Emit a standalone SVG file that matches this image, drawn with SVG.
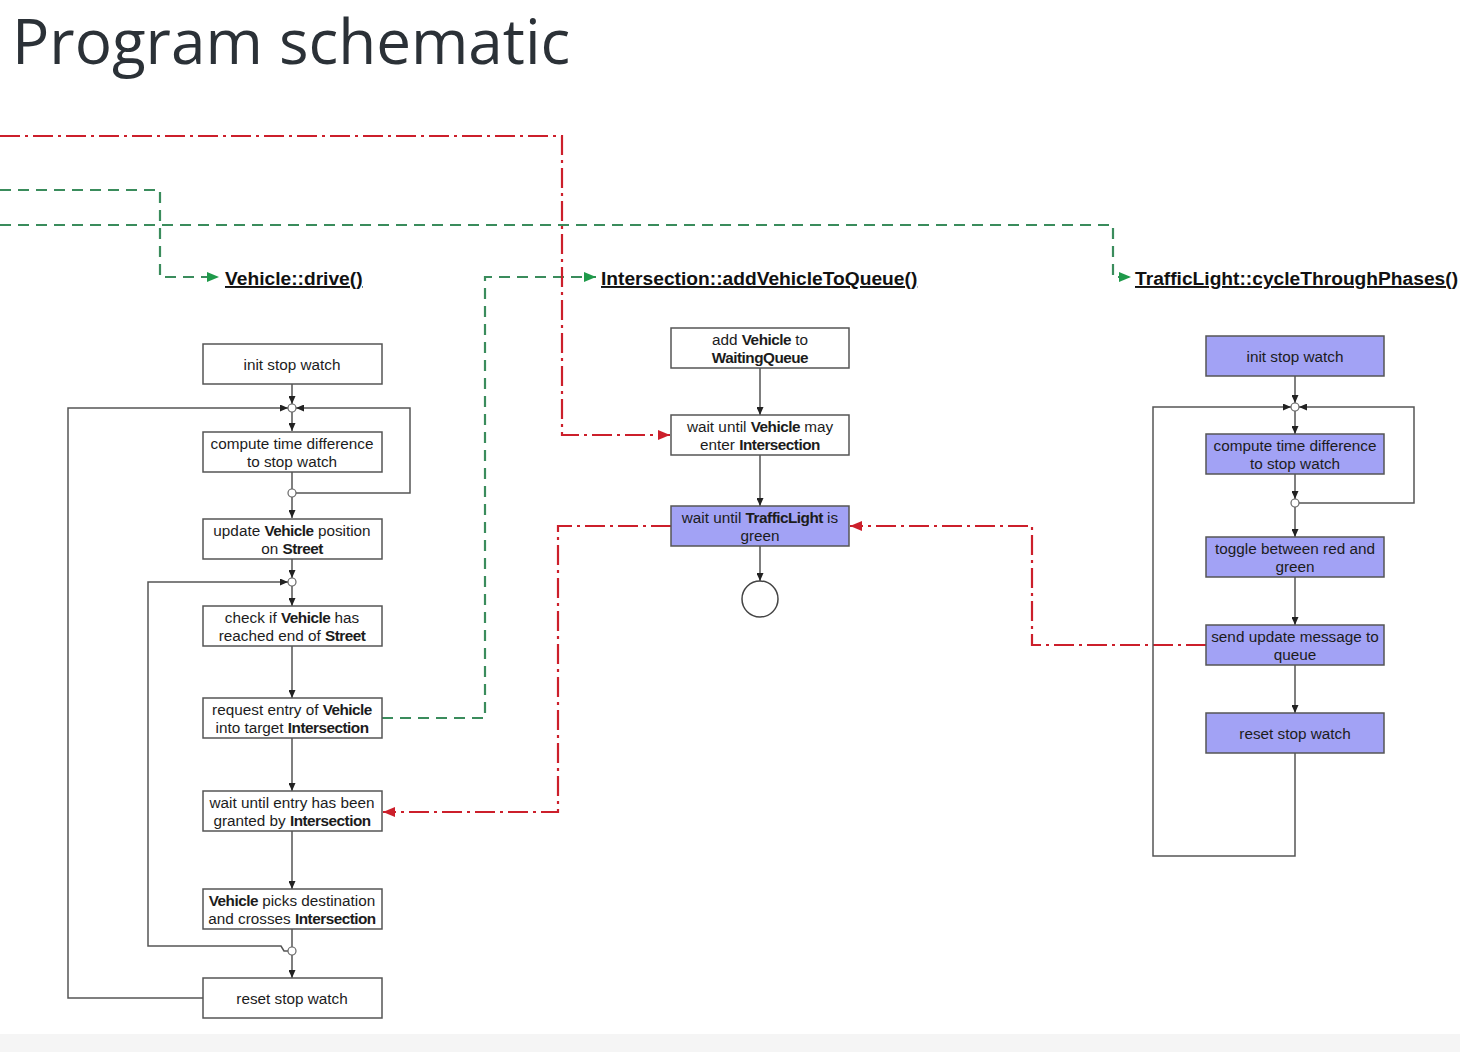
<svg xmlns="http://www.w3.org/2000/svg" width="1460" height="1052" viewBox="0 0 1460 1052">
<style>
.box{fill:#ffffff;stroke:#555;stroke-width:1.5}
.pbox{fill:#a2a2f5;stroke:#555;stroke-width:1.5}
.t{font-family:"Liberation Sans",Arial,Helvetica,sans-serif;font-size:15.3px;fill:#1c1c1c;text-anchor:middle}
.b{font-weight:bold;letter-spacing:-0.5px}
.lbl{font-family:"Liberation Sans",Arial,Helvetica,sans-serif;font-size:19.2px;font-weight:bold;fill:#111;text-decoration:underline}
.ln{fill:none;stroke:#555;stroke-width:1.5}
.arr{fill:none;stroke:#555;stroke-width:1.5;marker-end:url(#ab)}
.jn{fill:#fff;stroke:#666;stroke-width:1.2}
.g{fill:none;stroke:#3a8c5c;stroke-width:2.2;stroke-dasharray:11 7;marker-end:url(#ag)}
.r{fill:none;stroke:#cc1f2b;stroke-width:2.2;stroke-dasharray:20 5 3 5;marker-end:url(#ar)}
</style>
<defs>
<marker id="ab" viewBox="0 0 8 7" refX="8" refY="3.5" markerWidth="8" markerHeight="7" markerUnits="userSpaceOnUse" orient="auto"><path d="M0,0 L8,3.5 L0,7 z" fill="#222"/></marker>
<marker id="ag" viewBox="0 0 12 10" refX="12" refY="5" markerWidth="12" markerHeight="10" markerUnits="userSpaceOnUse" orient="auto"><path d="M0,0 L12,5 L0,10 z" fill="#1f9a4a"/></marker>
<marker id="ar" viewBox="0 0 12 10" refX="12" refY="5" markerWidth="12" markerHeight="10" markerUnits="userSpaceOnUse" orient="auto"><path d="M0,0 L12,5 L0,10 z" fill="#cc1f2b"/></marker>
</defs>
<rect x="0" y="0" width="1460" height="1052" fill="#ffffff"/>
<rect x="0" y="1034" width="1460" height="18" fill="#f5f5f5"/>
<text x="12" y="64" font-family="'Open Sans','Noto Sans',sans-serif" font-size="62" fill="#2b3137">Program schematic</text>

<g id="connectors">
<path class="g" d="M0,190 H160 V277 H219"/>
<path class="g" d="M0,225 H1113 V277 H1131"/>
<path class="g" d="M382,718 H485 V277 H596"/>
<path class="r" d="M0,136 H562 V435 H670"/>
<path class="r" d="M671,526 H558 V812 H383"/>
<path class="r" d="M1206,645 H1032 V526 H850"/>
<path class="arr" d="M292,384 V404"/>
<path class="arr" d="M292,412 V431"/>
<path class="ln" d="M292,471 V489"/>
<path class="arr" d="M292,497 V518"/>
<path class="arr" d="M292,558 V578"/>
<path class="arr" d="M292,586 V606"/>
<path class="arr" d="M292,646 V698"/>
<path class="arr" d="M292,738 V791"/>
<path class="arr" d="M292,831 V889"/>
<path class="ln" d="M292,929 V947"/>
<path class="arr" d="M292,955 V978"/>
<path class="arr" d="M203,998 H68 V408 H288"/>
<path class="arr" d="M296,493 H410 V408 H296"/>
<path class="arr" d="M288,951 H284 L281,946 H148 V582 H288"/>
<path class="arr" d="M760,368 V415"/>
<path class="arr" d="M760,455 V506"/>
<path class="arr" d="M760,546 V581"/>
<path class="arr" d="M1295,376 V403"/>
<path class="arr" d="M1295,411 V434"/>
<path class="arr" d="M1295,474 V499"/>
<path class="arr" d="M1295,507 V537"/>
<path class="arr" d="M1295,577 V625"/>
<path class="arr" d="M1295,665 V713"/>
<path class="arr" d="M1295,753 V856 H1153 V407 H1291"/>
<path class="arr" d="M1299,503 H1414 V407 H1299"/>
<circle class="jn" cx="292" cy="408" r="4"/>
<circle class="jn" cx="292" cy="493" r="4"/>
<circle class="jn" cx="292" cy="582" r="4"/>
<circle class="jn" cx="292" cy="951" r="4"/>
<circle class="jn" cx="1295" cy="407" r="4"/>
<circle class="jn" cx="1295" cy="503" r="4"/>
</g>

<g id="label-vehicle-drive"><text class="lbl" x="225" y="285">Vehicle::drive()</text></g>
<g id="label-intersection"><text class="lbl" x="601" y="285">Intersection::addVehicleToQueue()</text></g>
<g id="label-trafficlight"><text class="lbl" x="1135" y="285">TrafficLight::cycleThroughPhases()</text></g>

<g id="v-init"><rect class="box" x="203" y="344" width="179" height="40"/><text class="t" x="292" y="369.5">init stop watch</text></g>
<g id="v-compute"><rect class="box" x="203" y="432" width="179" height="40"/><text class="t" x="292" y="448.5">compute time difference</text><text class="t" x="292" y="466.5">to stop watch</text></g>
<g id="v-update"><rect class="box" x="203" y="519" width="179" height="40"/><text class="t" x="292" y="535.5">update <tspan class="b">Vehicle</tspan> position</text><text class="t" x="292" y="553.5">on <tspan class="b">Street</tspan></text></g>
<g id="v-check"><rect class="box" x="203" y="606" width="179" height="40"/><text class="t" x="292" y="622.5">check if <tspan class="b">Vehicle</tspan> has</text><text class="t" x="292" y="640.5">reached end of <tspan class="b">Street</tspan></text></g>
<g id="v-request"><rect class="box" x="203" y="698" width="179" height="40"/><text class="t" x="292" y="714.5">request entry of <tspan class="b">Vehicle</tspan></text><text class="t" x="292" y="732.5">into target <tspan class="b">Intersection</tspan></text></g>
<g id="v-wait"><rect class="box" x="203" y="791" width="179" height="40"/><text class="t" x="292" y="807.5">wait until entry has been</text><text class="t" x="292" y="825.5">granted by <tspan class="b">Intersection</tspan></text></g>
<g id="v-picks"><rect class="box" x="203" y="889" width="179" height="40"/><text class="t" x="292" y="905.5"><tspan class="b">Vehicle</tspan> picks destination</text><text class="t" x="292" y="923.5">and crosses <tspan class="b">Intersection</tspan></text></g>
<g id="v-reset"><rect class="box" x="203" y="978" width="179" height="40"/><text class="t" x="292" y="1003.5">reset stop watch</text></g>

<g id="i-add"><rect class="box" x="671" y="328" width="178" height="40"/><text class="t" x="760" y="344.5">add <tspan class="b">Vehicle</tspan> to</text><text class="t" x="760" y="362.5"><tspan class="b">WaitingQueue</tspan></text></g>
<g id="i-wait"><rect class="box" x="671" y="415" width="178" height="40"/><text class="t" x="760" y="431.5">wait until <tspan class="b">Vehicle</tspan> may</text><text class="t" x="760" y="449.5">enter <tspan class="b">Intersection</tspan></text></g>
<g id="i-green"><rect class="pbox" x="671" y="506" width="178" height="40"/><text class="t" x="760" y="522.5">wait until <tspan class="b">TrafficLight</tspan> is</text><text class="t" x="760" y="540.5">green</text></g>
<g id="i-end"><circle cx="760" cy="599" r="18" fill="#fff" stroke="#444" stroke-width="1.5"/></g>

<g id="t-init"><rect class="pbox" x="1206" y="336" width="178" height="40"/><text class="t" x="1295" y="361.5">init stop watch</text></g>
<g id="t-compute"><rect class="pbox" x="1206" y="434" width="178" height="40"/><text class="t" x="1295" y="450.5">compute time difference</text><text class="t" x="1295" y="468.5">to stop watch</text></g>
<g id="t-toggle"><rect class="pbox" x="1206" y="537" width="178" height="40"/><text class="t" x="1295" y="553.5">toggle between red and</text><text class="t" x="1295" y="571.5">green</text></g>
<g id="t-send"><rect class="pbox" x="1206" y="625" width="178" height="40"/><text class="t" x="1295" y="641.5">send update message to</text><text class="t" x="1295" y="659.5">queue</text></g>
<g id="t-reset"><rect class="pbox" x="1206" y="713" width="178" height="40"/><text class="t" x="1295" y="738.5">reset stop watch</text></g>
</svg>
